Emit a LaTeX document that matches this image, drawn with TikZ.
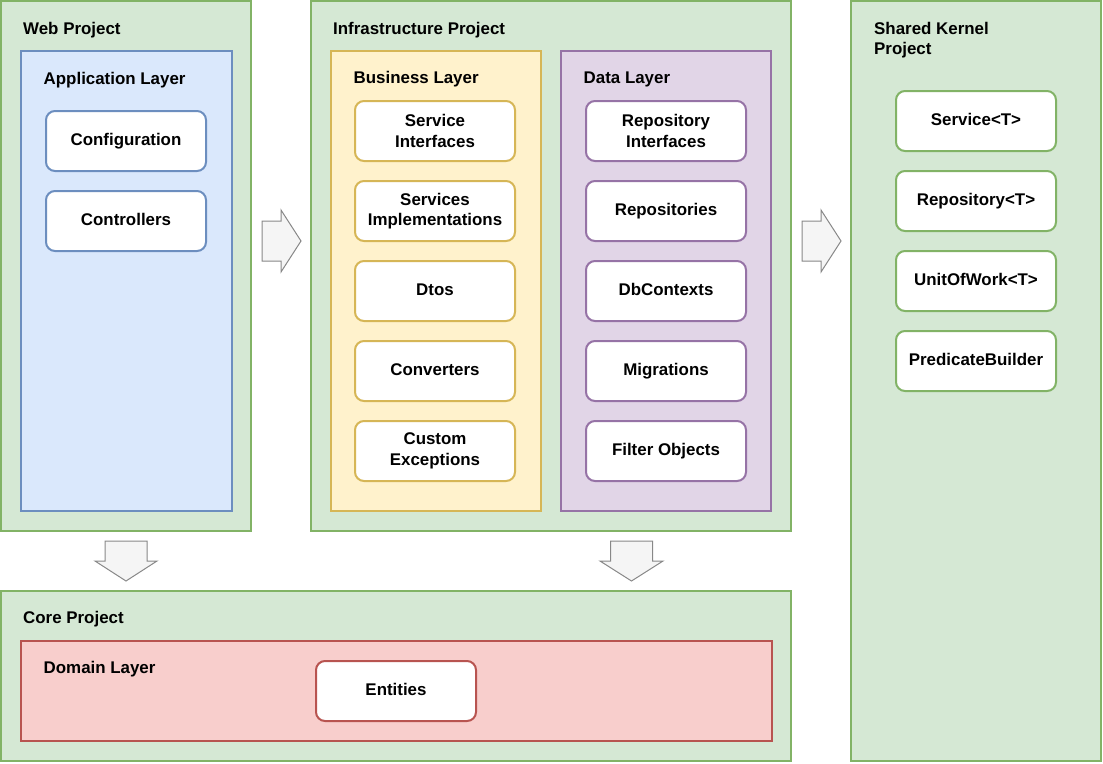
\documentclass[tikz,border=0pt]{standalone}
\usepackage{fontspec}
\setmainfont{Liberation Sans}
\definecolor{gfill}{HTML}{D5E8D4}
\definecolor{gline}{HTML}{82B366}
\definecolor{bfill}{HTML}{DAE8FC}
\definecolor{bline}{HTML}{6C8EBF}
\definecolor{yfill}{HTML}{FFF2CC}
\definecolor{yline}{HTML}{D6B656}
\definecolor{pfill}{HTML}{E1D5E7}
\definecolor{pline}{HTML}{9673A6}
\definecolor{rfill}{HTML}{F8CECC}
\definecolor{rline}{HTML}{B85450}
\definecolor{afill}{HTML}{F5F5F5}
\definecolor{aline}{HTML}{888888}
\begin{document}
\begin{tikzpicture}[x=1pt,y=-1pt,
  lbl/.style={font=\fontsize{16.9}{20}\selectfont\bfseries, anchor=base west, inner sep=0pt, align=left},
  cont/.style 2 args={draw=#1, fill=#2, line width=2pt, inner sep=0pt},
  item/.style={draw=#1, fill=white, line width=2pt, rounded corners=9pt,
    minimum width=160, minimum height=60, align=center, inner sep=0pt,
    font=\fontsize{16.9}{20.4}\selectfont\bfseries},
  one/.style={text height=11.7pt, text depth=2.5pt},
  blockarrow/.style={draw=aline, fill=afill, line width=1pt, line join=miter}]
\useasboundingbox (0,0) rectangle (1103,763);
\fill[white] (0,0) rectangle (1103,763);

% Web project
\node[cont={gline}{gfill}, minimum width=250, minimum height=530] (web) at (126,266) {};
\node[lbl] (webl) at (23,34) {Web Project};
\node[cont={bline}{bfill}, minimum width=211, minimum height=460] (app) at (126.5,281) {};
\node[lbl] (appl) at (43.5,84) {Application Layer};
\node[item=bline, one] (config) at (126,141) {Configuration};
\node[item=bline, one] (ctrl) at (126,221) {Controllers};

% Infrastructure project
\node[cont={gline}{gfill}, minimum width=480, minimum height=530] (infra) at (551,266) {};
\node[lbl] (infral) at (333,34) {Infrastructure Project};
\node[cont={yline}{yfill}, minimum width=210, minimum height=460] (bus) at (436,281) {};
\node[lbl] (busl) at (353.5,83) {Business Layer};
\node[cont={pline}{pfill}, minimum width=210, minimum height=460] (data) at (666,281) {};
\node[lbl] (datal) at (583.5,83) {Data Layer};
\node[item=yline] (si) at (435,131) {Service\\Interfaces};
\node[item=yline] (simp) at (435,211) {Services\\Implementations};
\node[item=yline, one] (dtos) at (435,291) {Dtos};
\node[item=yline, one] (conv) at (435,371) {Converters};
\node[item=yline] (cex) at (435,451) {Custom\\Exceptions};
\node[item=pline] (ri) at (666,131) {Repository\\Interfaces};
\node[item=pline, one] (repos) at (666,211) {Repositories};
\node[item=pline, one] (dbc) at (666,291) {DbContexts};
\node[item=pline, one] (mig) at (666,371) {Migrations};
\node[item=pline, one] (fo) at (666,451) {Filter Objects};

% Shared kernel
\node[cont={gline}{gfill}, minimum width=250, minimum height=760] (shared) at (976,381) {};
\node[lbl] (sharedl) at (874,54) {Shared Kernel\\Project};
\node[item=gline, one] (svc) at (976,121) {Service<T>};
\node[item=gline, one] (repo) at (976,201) {Repository<T>};
\node[item=gline, one] (uow) at (976,281) {UnitOfWork<T>};
\node[item=gline, one] (pb) at (976,361) {PredicateBuilder};

% Core project
\node[cont={gline}{gfill}, minimum width=790, minimum height=170] (core) at (396,676) {};
\node[lbl] (corel) at (23,623) {Core Project};
\node[cont={rline}{rfill}, minimum width=751, minimum height=100] (dom) at (396.5,691) {};
\node[lbl] (doml) at (43.5,673) {Domain Layer};
\node[item=rline, one] (ent) at (396,691) {Entities};

% Block arrows
\draw[blockarrow] (262,221) -- (281,221) -- (281,210) -- (301,241) -- (281,272) -- (281,261) -- (262,261) -- cycle;
\draw[blockarrow] (802,221) -- (821,221) -- (821,210) -- (841,241) -- (821,272) -- (821,261) -- (802,261) -- cycle;
\draw[blockarrow] (105,541) -- (147,541) -- (147,561) -- (157,561) -- (126,581) -- (95,561) -- (105,561) -- cycle;
\draw[blockarrow] (610.5,541) -- (652.5,541) -- (652.5,561) -- (663,561) -- (631.5,581) -- (600,561) -- (610.5,561) -- cycle;
\end{tikzpicture}
\end{document}
